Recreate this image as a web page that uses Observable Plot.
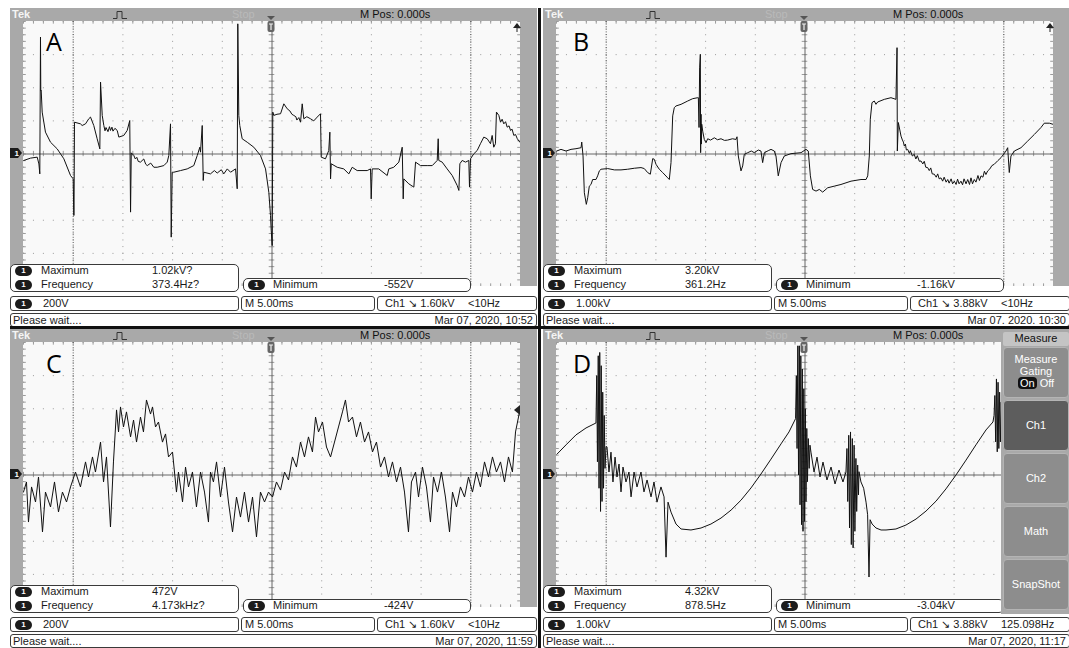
<!DOCTYPE html>
<html><head><meta charset="utf-8">
<script src="https://cdn.jsdelivr.net/npm/d3@7"></script>
<script src="https://cdn.jsdelivr.net/npm/@observablehq/plot@0.6"></script>
<style>
html,body{margin:0;padding:0;background:#fff;}
body{width:1069px;height:648px;position:relative;overflow:hidden;font-family:"Liberation Sans",Arial,sans-serif;color:#1a1a1a;}
.panel{position:absolute;width:527px;height:318px;}
.hdr{position:absolute;left:0;top:0;width:527px;height:13px;background:#a9a9a9;}
.band{position:absolute;top:13px;height:265px;background:#a9a9a9;}
.plotwrap{position:absolute;left:13px;top:13px;width:497px;height:265px;}
.t{position:absolute;white-space:nowrap;font-size:11px;line-height:13px;}
.box{position:absolute;box-sizing:border-box;border:1px solid #3a3a3a;border-radius:5px;background:#fff;}
.badge{position:absolute;width:17px;height:10px;border-radius:5px;background:#1c1c1c;color:#fff;font-size:8px;line-height:10px;text-align:center;font-weight:bold;}
.letter{position:absolute;font-family:"Open Sans","Liberation Sans",sans-serif;font-size:25px;line-height:25px;color:#000;}
.sep{position:absolute;background:#111;}
.menu{position:absolute;left:1001px;top:329px;width:68px;height:285px;background:#a9a9a9;}
.mbtn{position:absolute;left:2px;width:66px;height:51px;box-sizing:border-box;border-radius:4px;background:#8d8d8d;border:1px solid #b4b4b4;color:#fff;font-size:11px;text-align:center;}
</style></head><body>
<script>
// ---------------- data ----------------
const letters = ["A", "B", "C", "D"];
const voltsPerDiv = [200, 1, 200, 1];           // A,C in V ; B,D in kV
const maxVals = ["1.02kV?", "3.20kV", "472V", "4.32kV"];
const freqVals = ["373.4Hz?", "361.2Hz", "4.173kHz?", "878.5Hz"];
const minVals = ["-552V", "-1.16kV", "-424V", "-3.04kV"];
const scaleLabels = ["200V", "1.00kV", "200V", "1.00kV"];
const timeLabels = ["M 5.00ms", "M 5.00ms", "M 5.00ms", "M 5.00ms"];
const trigLevels = ["1.60kV", "3.88kV", "1.60kV", "3.88kV"];
const trigFreqs = ["<10Hz", "<10Hz", "<10Hz", "125.098Hz"];
const dates = ["Mar 07, 2020, 10:52", "Mar 07. 2020. 10:30", "Mar 07, 2020, 11:59", "Mar 07, 2020, 11:17"];
const menuItems = ["Ch1", "Ch2", "Math", "SnapShot"];

// traces: [time ms, voltage]
const traceA = [[-24.97,-39],[-24.3,-25],[-23.62,-19],[-23.45,-60],[-23.36,-120],[-23.29,706],[-23.26,380],[-23.22,384],[-23.12,253],[-22.79,132],[-22.28,71],[-21.61,31],[-20.94,-29],[-20.27,-130],[-20.0,-150],[-19.94,-371],[-19.92,-371],[-19.87,192],[-19.27,182],[-19.1,172],[-18.76,182],[-18.43,213],[-18.26,223],[-17.93,172],[-17.59,92],[-17.32,31],[-17.25,434],[-17.08,233],[-16.92,172],[-16.8,140],[-16.7,160],[-16.5,135],[-16.35,165],[-16.25,142],[-16.1,162],[-16.0,138],[-15.8,155],[-15.57,142],[-15.41,102],[-14.91,112],[-14.57,142],[-14.31,202],[-14.23,-351],[-14.16,7],[-13.90,-9],[-13.75,-30],[-13.6,-20],[-13.45,-45],[-13.23,-49],[-12.9,-30],[-12.7,-62],[-12.55,-70],[-12.2,-55],[-11.89,-80],[-11.55,-80],[-10.88,-70],[-10.54,-49],[-10.38,-9],[-10.21,182],[-10.14,-502],[-10.04,-110],[-9.88,-110],[-9.20,-100],[-8.53,-90],[-7.87,-70],[-7.52,-9],[-7.26,41],[-7.19,11],[-7.02,172],[-6.92,-160],[-6.86,-110],[-6.19,-120],[-5.8,-100],[-5.51,-115],[-5.1,-95],[-4.85,-120],[-4.5,-90],[-4.17,-110],[-3.67,-90],[-3.50,-210],[-3.44,786],[-3.34,233],[-3.24,172],[-3.00,92],[-2.49,71],[-1.83,41],[-1.16,-9],[-0.65,-90],[-0.32,-231],[-0.15,-371],[-0.08,-460],[0.02,-553],[0.08,253],[0.18,233],[0.5,240],[0.86,243],[1.19,303],[1.53,273],[1.8,260],[2.0,240],[2.19,233],[2.4,225],[2.5,205],[2.7,220],[2.87,192],[3.04,303],[3.20,213],[3.5,225],[3.87,213],[4.2,200],[4.55,223],[4.88,243],[4.95,-19],[5.38,-29],[5.71,21],[5.82,132],[5.89,-150],[5.96,-59],[6.56,-80],[7.22,-90],[7.73,-120],[8.07,-80],[8.57,-100],[9.58,-100],[9.91,-90],[9.98,-271],[10.08,-90],[10.74,-90],[11.59,-130],[11.75,-90],[12.25,-80],[12.76,-49],[13.10,41],[13.20,-271],[13.26,-150],[13.76,-180],[14.27,-200],[14.44,-49],[14.94,-70],[15.61,-70],[16.12,-70],[16.62,-39],[16.72,92],[16.78,-39],[17.12,-49],[17.62,-90],[18.13,-130],[18.63,-190],[18.80,-220],[18.90,-59],[19.13,-39],[19.47,-49],[19.80,-39],[19.87,-200],[19.97,-29],[20.30,1],[20.64,21],[20.97,62],[21.31,102],[21.65,92],[21.98,62],[22.15,112],[22.31,41],[22.48,62],[22.58,253],[22.82,233],[22.99,192],[23.15,210],[23.32,182],[23.5,195],[23.66,162],[23.85,170],[24.00,142],[24.15,150],[24.33,112],[24.5,118],[24.68,92],[24.94,71]];

const traceB = [[-24.98,0.09],[-24.55,0.14],[-24.04,0.09],[-23.54,0.14],[-23.04,0.16],[-22.53,0.19],[-22.46,0.36],[-22.33,-0.06],[-22.20,-1.17],[-22.00,-1.52],[-21.86,-1.32],[-21.70,-0.97],[-21.53,-0.92],[-21.36,-0.77],[-21.03,-0.77],[-20.86,-0.66],[-20.69,-0.51],[-20.52,-0.46],[-19.85,-0.44],[-19.18,-0.48],[-18.51,-0.48],[-17.84,-0.46],[-17.17,-0.43],[-16.50,-0.41],[-16.17,-0.44],[-15.83,-0.56],[-15.56,-0.61],[-15.32,-0.14],[-15.16,-0.16],[-14.99,-0.31],[-14.66,-0.46],[-14.32,-0.56],[-13.81,-0.72],[-13.65,-0.77],[-13.48,-0.26],[-13.31,1.15],[-13.15,1.40],[-12.98,1.45],[-12.47,1.50],[-11.80,1.60],[-11.30,1.67],[-10.79,1.70],[-10.73,1.70],[-10.66,0.8],[-10.60,2.6],[-10.53,3.01],[-10.50,0.04],[-10.46,1.2],[-10.42,0.3],[-10.39,0.9],[-10.29,0.69],[-10.13,0.44],[-9.96,0.34],[-9.79,0.46],[-9.5,0.42],[-9.12,0.49],[-8.8,0.43],[-8.45,0.46],[-8.1,0.41],[-7.78,0.42],[-7.3,0.46],[-6.94,0.44],[-6.84,0.52],[-6.71,-0.06],[-6.44,-0.51],[-6.27,-0.36],[-6.11,-0.01],[-5.76,0.04],[-5.4,0.09],[-5.10,0.04],[-4.7,0.12],[-4.43,0.09],[-4.26,-0.26],[-4.09,0.04],[-3.7,0.1],[-3.42,0.14],[-3.09,0.09],[-2.92,-0.06],[-2.69,-0.66],[-2.41,-0.26],[-2.08,-0.06],[-1.41,0.01],[-0.40,0.04],[0.10,0.14],[0.33,0.09],[0.54,-0.66],[0.77,-1.07],[1.11,-1.12],[1.44,-1.07],[1.78,-1.15],[2.28,-1.02],[2.95,-0.97],[3.62,-0.92],[4.63,-0.82],[5.63,-0.77],[6.14,-0.77],[6.31,-0.66],[6.47,-0.06],[6.57,1.05],[6.74,1.55],[6.97,1.60],[7.14,1.50],[7.31,1.57],[7.98,1.65],[8.65,1.70],[9.15,1.65],[9.26,3.21],[9.29,0.09],[9.39,0.95],[9.66,0.54],[9.8,0.42],[9.9,0.36],[9.99,0.24],[10.1,0.3],[10.2,0.12],[10.33,0.14],[10.5,0.02],[10.6,0.1],[10.8,-0.06],[10.99,-0.01],[11.15,-0.15],[11.3,-0.05],[11.5,-0.22],[11.67,-0.21],[11.85,-0.3],[12.0,-0.22],[12.15,-0.4],[12.34,-0.41],[12.5,-0.5],[12.65,-0.42],[12.8,-0.6],[13.01,-0.61],[13.2,-0.7],[13.35,-0.6],[13.5,-0.75],[13.68,-0.72],[13.85,-0.82],[14.0,-0.7],[14.2,-0.85],[14.36,-0.77],[14.5,-0.88],[14.7,-0.75],[14.85,-0.9],[15.02,-0.82],[15.2,-0.92],[15.35,-0.76],[15.5,-0.9],[15.69,-0.82],[15.85,-0.93],[16.0,-0.75],[16.2,-0.9],[16.37,-0.77],[16.55,-0.92],[16.7,-0.72],[16.85,-0.9],[17.03,-0.77],[17.2,-0.85],[17.4,-0.65],[17.55,-0.8],[17.71,-0.66],[17.9,-0.7],[18.05,-0.52],[18.2,-0.62],[18.38,-0.51],[18.6,-0.45],[18.8,-0.35],[19.04,-0.31],[19.4,-0.2],[19.72,-0.11],[20.22,0.09],[20.39,0.19],[20.55,-0.56],[20.72,-0.06],[21.06,0.09],[21.73,0.19],[22.40,0.39],[23.07,0.59],[23.74,0.80],[24.07,0.93],[24.58,0.93],[24.92,0.90]];

const traceC = [[-25.0,-103],[-24.7,-42],[-24.5,-284],[-24.19,-72],[-23.79,-163],[-23.49,-12],[-23.09,-344],[-22.79,-103],[-22.28,-193],[-21.88,-42],[-21.48,-223],[-21.08,-103],[-20.67,-163],[-20.27,-72],[-19.77,18],[-19.27,-72],[-18.76,79],[-18.46,-12],[-18.06,109],[-17.76,18],[-17.25,199],[-16.95,-42],[-16.65,109],[-16.25,-314],[-15.95,79],[-15.64,393],[-15.44,260],[-15.24,411],[-14.94,290],[-14.64,381],[-14.23,230],[-13.93,332],[-13.63,199],[-13.23,350],[-12.93,260],[-12.63,453],[-12.22,368],[-12.02,411],[-11.72,290],[-11.42,320],[-11.02,199],[-10.71,248],[-10.41,109],[-10.01,139],[-9.61,-103],[-9.41,18],[-9.00,-163],[-8.70,48],[-8.40,-72],[-8.00,18],[-7.60,-193],[-7.19,18],[-6.79,-103],[-6.39,-284],[-6.19,18],[-5.89,-42],[-5.58,79],[-5.18,-133],[-4.78,48],[-4.38,-163],[-3.97,-344],[-3.57,-133],[-3.17,-254],[-2.77,-103],[-2.36,-284],[-1.96,-133],[-1.56,-374],[-1.16,-103],[-0.75,-163],[-0.35,-103],[0.05,-133],[0.45,-42],[0.86,-91],[1.26,18],[1.66,-30],[2.06,109],[2.46,48],[2.87,199],[3.27,109],[3.67,230],[4.07,139],[4.38,350],[4.68,260],[5.08,320],[5.48,169],[5.89,109],[6.29,199],[6.69,290],[7.09,381],[7.39,453],[7.70,320],[8.10,350],[8.50,230],[8.90,320],[9.31,199],[9.71,260],[10.11,139],[10.51,199],[10.92,48],[11.32,109],[11.72,-12],[12.12,79],[12.53,-42],[12.93,48],[13.33,-103],[13.73,-344],[14.03,-42],[14.44,18],[14.74,-133],[15.14,48],[15.54,-72],[15.94,-284],[16.25,-12],[16.65,-103],[17.05,18],[17.45,-133],[17.86,-344],[18.16,-103],[18.56,-193],[18.96,-72],[19.37,-133],[19.77,-12],[20.17,-103],[20.57,18],[20.97,-72],[21.38,79],[21.78,-12],[22.18,109],[22.58,18],[22.99,79],[23.39,-42],[23.79,109],[24.19,18],[24.50,260],[24.80,350],[25.0,411]];

const traceD = [[-24.95,0.63],[-24.04,0.91],[-23.04,1.21],[-22.03,1.42],[-21.03,1.57],[-20.95,3.0],[-20.88,0.4],[-20.8,3.6],[-20.72,-0.4],[-20.65,3.7],[-20.57,-1.1],[-20.5,3.3],[-20.42,-0.8],[-20.35,2.5],[-20.27,-0.4],[-20.2,1.8],[-20.12,0.2],[-20.02,0.85],[-19.92,0.85],[-19.72,0.09],[-19.52,0.69],[-19.32,-0.21],[-19.11,0.54],[-18.91,-0.06],[-18.71,0.33],[-18.51,-0.51],[-18.31,0.24],[-18.01,-0.21],[-17.71,0.09],[-17.50,-0.66],[-17.20,0.09],[-16.90,-0.36],[-16.50,0.09],[-16.20,-0.51],[-15.89,-0.15],[-15.49,-0.66],[-15.19,-0.21],[-14.89,-0.82],[-14.49,-0.36],[-14.18,-0.66],[-13.98,-2.48],[-13.78,-0.82],[-13.48,-1.12],[-12.98,-1.48],[-12.47,-1.63],[-11.47,-1.66],[-10.46,-1.60],[-9.46,-1.48],[-8.45,-1.30],[-7.44,-1.06],[-6.44,-0.76],[-5.43,-0.39],[-4.43,0.03],[-3.42,0.48],[-2.41,0.94],[-1.61,1.30],[-0.95,1.7],[-0.87,3.0],[-0.8,0.8],[-0.72,3.9],[-0.65,0.0],[-0.57,3.9],[-0.5,-0.9],[-0.42,3.6],[-0.35,-1.5],[-0.27,3.2],[-0.2,-1.7],[-0.12,2.6],[-0.05,-1.4],[0.03,2.0],[0.1,-0.8],[0.18,1.4],[0.25,-0.2],[0.33,1.1],[0.42,0.2],[0.5,0.9],[0.60,0.69],[0.91,0.09],[1.21,0.54],[1.51,-0.06],[1.81,0.39],[2.21,-0.15],[2.62,0.24],[3.02,-0.27],[3.42,0.15],[3.82,-0.21],[4.12,0.09],[4.22,0.8],[4.3,-0.8],[4.4,1.2],[4.48,-1.6],[4.58,1.3],[4.66,-2.1],[4.76,1.1],[4.84,-2.2],[4.94,0.9],[5.02,-1.7],[5.12,0.5],[5.2,-1.1],[5.3,0.3],[5.38,-0.6],[5.43,0.1],[5.63,-0.21],[5.9,-0.4],[6.14,-0.82],[6.3,-1.2],[6.44,-3.08],[6.55,-1.35],[6.75,-1.48],[7.14,-1.6],[7.65,-1.66],[8.15,-1.66],[9.15,-1.63],[10.16,-1.51],[11.17,-1.33],[12.17,-1.09],[13.18,-0.79],[14.18,-0.42],[15.19,0.0],[16.2,0.45],[17.2,0.91],[18.21,1.36],[18.91,1.6],[19.02,1.8],[19.1,2.4],[19.18,1.0],[19.26,2.9],[19.34,0.7],[19.42,2.8],[19.5,0.8],[19.58,2.5],[19.66,1.0],[19.74,2.2],[19.82,1.5]];

const traces = [traceA, traceB, traceC, traceD];

// ---------------- helpers ----------------
function el(parent, cls, css, text) {
  const d = document.createElement("div");
  if (cls) d.className = cls;
  if (css) d.style.cssText = css;
  if (text != null) d.textContent = text;
  parent.appendChild(d);
  return d;
}

function scopePlot(trace, vdiv) {
  const vmax = 4 * vdiv;
  const xMajor = d3.range(-25, 25.001, 5);
  const yMajor = d3.range(-4, 4.001, 1).map(k => k * vdiv);
  const xMinor = d3.range(-25, 25.001, 1);
  const yMinor = d3.range(-20, 20.001, 1).map(k => k * vdiv / 5);
  const tx = 0.28, ty = vdiv * 0.08;
  const grid = "#9b9b9b";
  return Plot.plot({
    width: 497, height: 265, margin: 0,
    x: {domain: [-25, 25], axis: null},
    y: {domain: [-vmax, vmax], axis: null},
    style: {background: "#f9f9f9", overflow: "hidden"},
    marks: [
      Plot.ruleX(xMajor, {stroke: grid, strokeDasharray: "1,5.62"}),
      Plot.ruleY(yMajor, {stroke: grid, strokeDasharray: "1,8.94"}),
      Plot.ruleX(xMinor, {x: d => d, y1: vmax, y2: vmax - ty, stroke: grid}),
      Plot.ruleX(xMinor, {x: d => d, y1: -vmax, y2: -vmax + ty, stroke: grid}),
      Plot.ruleY(yMinor, {y: d => d, x1: -25, x2: -25 + tx, stroke: grid}),
      Plot.ruleY(yMinor, {y: d => d, x1: 25, x2: 25 - tx, stroke: grid}),
      Plot.ruleX(xMinor, {x: d => d, y1: -ty, y2: ty, stroke: grid}),
      Plot.ruleY(yMinor, {y: d => d, x1: -tx, x2: tx, stroke: grid}),
      Plot.ruleX([-20, 20], {stroke: "#555", strokeDasharray: "1,1.6"}),
      Plot.ruleY([0], {stroke: "#666"}),
      Plot.ruleX([0], {stroke: "#666"}),
      Plot.line(trace, {x: d => d[0], y: d => d[1], stroke: "#111", strokeWidth: 1, clip: true})
    ]
  });
}

function pulseIcon() {
  return `<svg width="14" height="9" style="position:absolute;left:103px;top:2px"><path d="M0 8.5H4V1.5H9V8.5H14" fill="none" stroke="#333" stroke-width="1"/></svg>`;
}

function buildPanel(i, left, top) {
  const p = el(document.body, "panel", `left:${left}px;top:${top}px`);
  const hdr = el(p, "hdr");
  el(hdr, "t", "left:2px;top:0px;color:#f4f4f4;font-weight:bold;font-size:11px", "Tek");
  hdr.insertAdjacentHTML("beforeend", pulseIcon());
  el(hdr, "t", "left:222px;top:0px;color:#b9b9b9", "Stop");
  el(hdr, "t", "left:350px;top:0px;color:#111", "M Pos: 0.000s");
  el(p, "band", "left:0;width:13px");
  el(p, "band", "left:510px;width:17px");
  const w = el(p, "plotwrap");
  w.appendChild(scopePlot(traces[i], voltsPerDiv[i]));

  // trigger position marker
  p.insertAdjacentHTML("beforeend",
    `<svg width="12" height="22" style="position:absolute;left:255px;top:8px"><path d="M2 0H10L6 4Z" fill="#555"/><rect x="2.5" y="5" width="7" height="11" rx="2" fill="#666"/><path d="M4 8H8M6 8V14" stroke="#eee" stroke-width="1.2"/></svg>`);
  // channel ground marker
  p.insertAdjacentHTML("beforeend",
    `<svg width="13" height="10" style="position:absolute;left:0px;top:140px"><path d="M0 0H8L12 5L8 10H0Z" fill="#1c1c1c"/><text x="4.5" y="8.3" font-size="8" font-weight="bold" fill="#fff" font-family="Liberation Sans">1</text></svg>`);
  // trigger level indicator
  if (i < 2) {
    p.insertAdjacentHTML("beforeend",
      `<svg width="10" height="10" style="position:absolute;left:502px;top:14px"><path d="M1 6L5 1L9 6Z" fill="#222"/><path d="M5 5V10" stroke="#222"/></svg>`);
  } else if (i === 2) {
    p.insertAdjacentHTML("beforeend",
      `<svg width="8" height="10" style="position:absolute;left:503px;top:76px"><path d="M7 0V10L1 5Z" fill="#222"/></svg>`);
  }
  // panel letter
  el(p, "letter", `left:${i % 2 ? 30 : 36}px;top:${i < 2 ? 21 : 22}px`, letters[i]);

  // measurement box
  const mb = el(p, "box", "left:0;top:256px;width:229px;height:28px");
  el(mb, "badge", "left:4px;top:1px", "1");
  el(mb, "t", "left:30px;top:-1px", "Maximum");
  el(mb, "t", "left:141px;top:-1px", maxVals[i]);
  el(mb, "badge", "left:4px;top:15px", "1");
  el(mb, "t", "left:30px;top:13px", "Frequency");
  el(mb, "t", "left:141px;top:13px", freqVals[i]);
  const nb = el(p, "box", "left:233px;top:270px;width:228px;height:14px");
  el(nb, "badge", "left:4px;top:1px", "1");
  el(nb, "t", "left:29px;top:-1px", "Minimum");
  el(nb, "t", "left:140px;top:-1px", minVals[i]);
  // row 2
  const r1 = el(p, "box", "left:0;top:288px;width:229px;height:15px;border-radius:3px");
  el(r1, "badge", "left:4px;top:1.5px", "1");
  el(r1, "t", "left:32px;top:0px", scaleLabels[i]);
  const r2 = el(p, "box", "left:231px;top:288px;width:134px;height:15px;border-radius:3px");
  el(r2, "t", "left:3px;top:0px", timeLabels[i]);
  const r3 = el(p, "box", "left:367px;top:288px;width:160px;height:15px;border-radius:3px");
  el(r3, "t", "left:7px;top:0px", "Ch1 \u2198 " + trigLevels[i]);
  el(r3, "t", "left:90px;top:0px", trigFreqs[i]);
  // row 3
  const r4 = el(p, "box", "left:0;top:305px;width:527px;height:14px;border-radius:3px");
  el(r4, "t", "left:2px;top:-0.5px", "Please wait....");
  el(r4, "t", "right:3px;top:-0.5px", dates[i]);
}

buildPanel(0, 10, 8);
buildPanel(1, 543, 8);
buildPanel(2, 10, 329);
buildPanel(3, 543, 329);

// separators
el(document.body, "sep", "left:538px;top:8px;width:3px;height:640px");
el(document.body, "sep", "left:10px;top:326px;width:1059px;height:3px");

// measure menu (panel D)
const menu = el(document.body, "menu");
el(menu, "t", "left:2px;top:3px;width:66px;height:14px;background:#c4c4c4;text-align:center;color:#111;border-radius:2px", "Measure");
const g = el(menu, "mbtn", "top:18px");
g.innerHTML = `<div style="line-height:12px;padding-top:5px">Measure<br>Gating<br><span style="background:#111;border-radius:4px;padding:0 2px">On</span> Off</div>`;
menuItems.forEach((m, k) => {
  el(menu, "mbtn", `top:${71 + k * 53}px;line-height:49px;${k === 0 ? "background:#5d5d5d;" : ""}`, m);
});
</script>
</body></html>
